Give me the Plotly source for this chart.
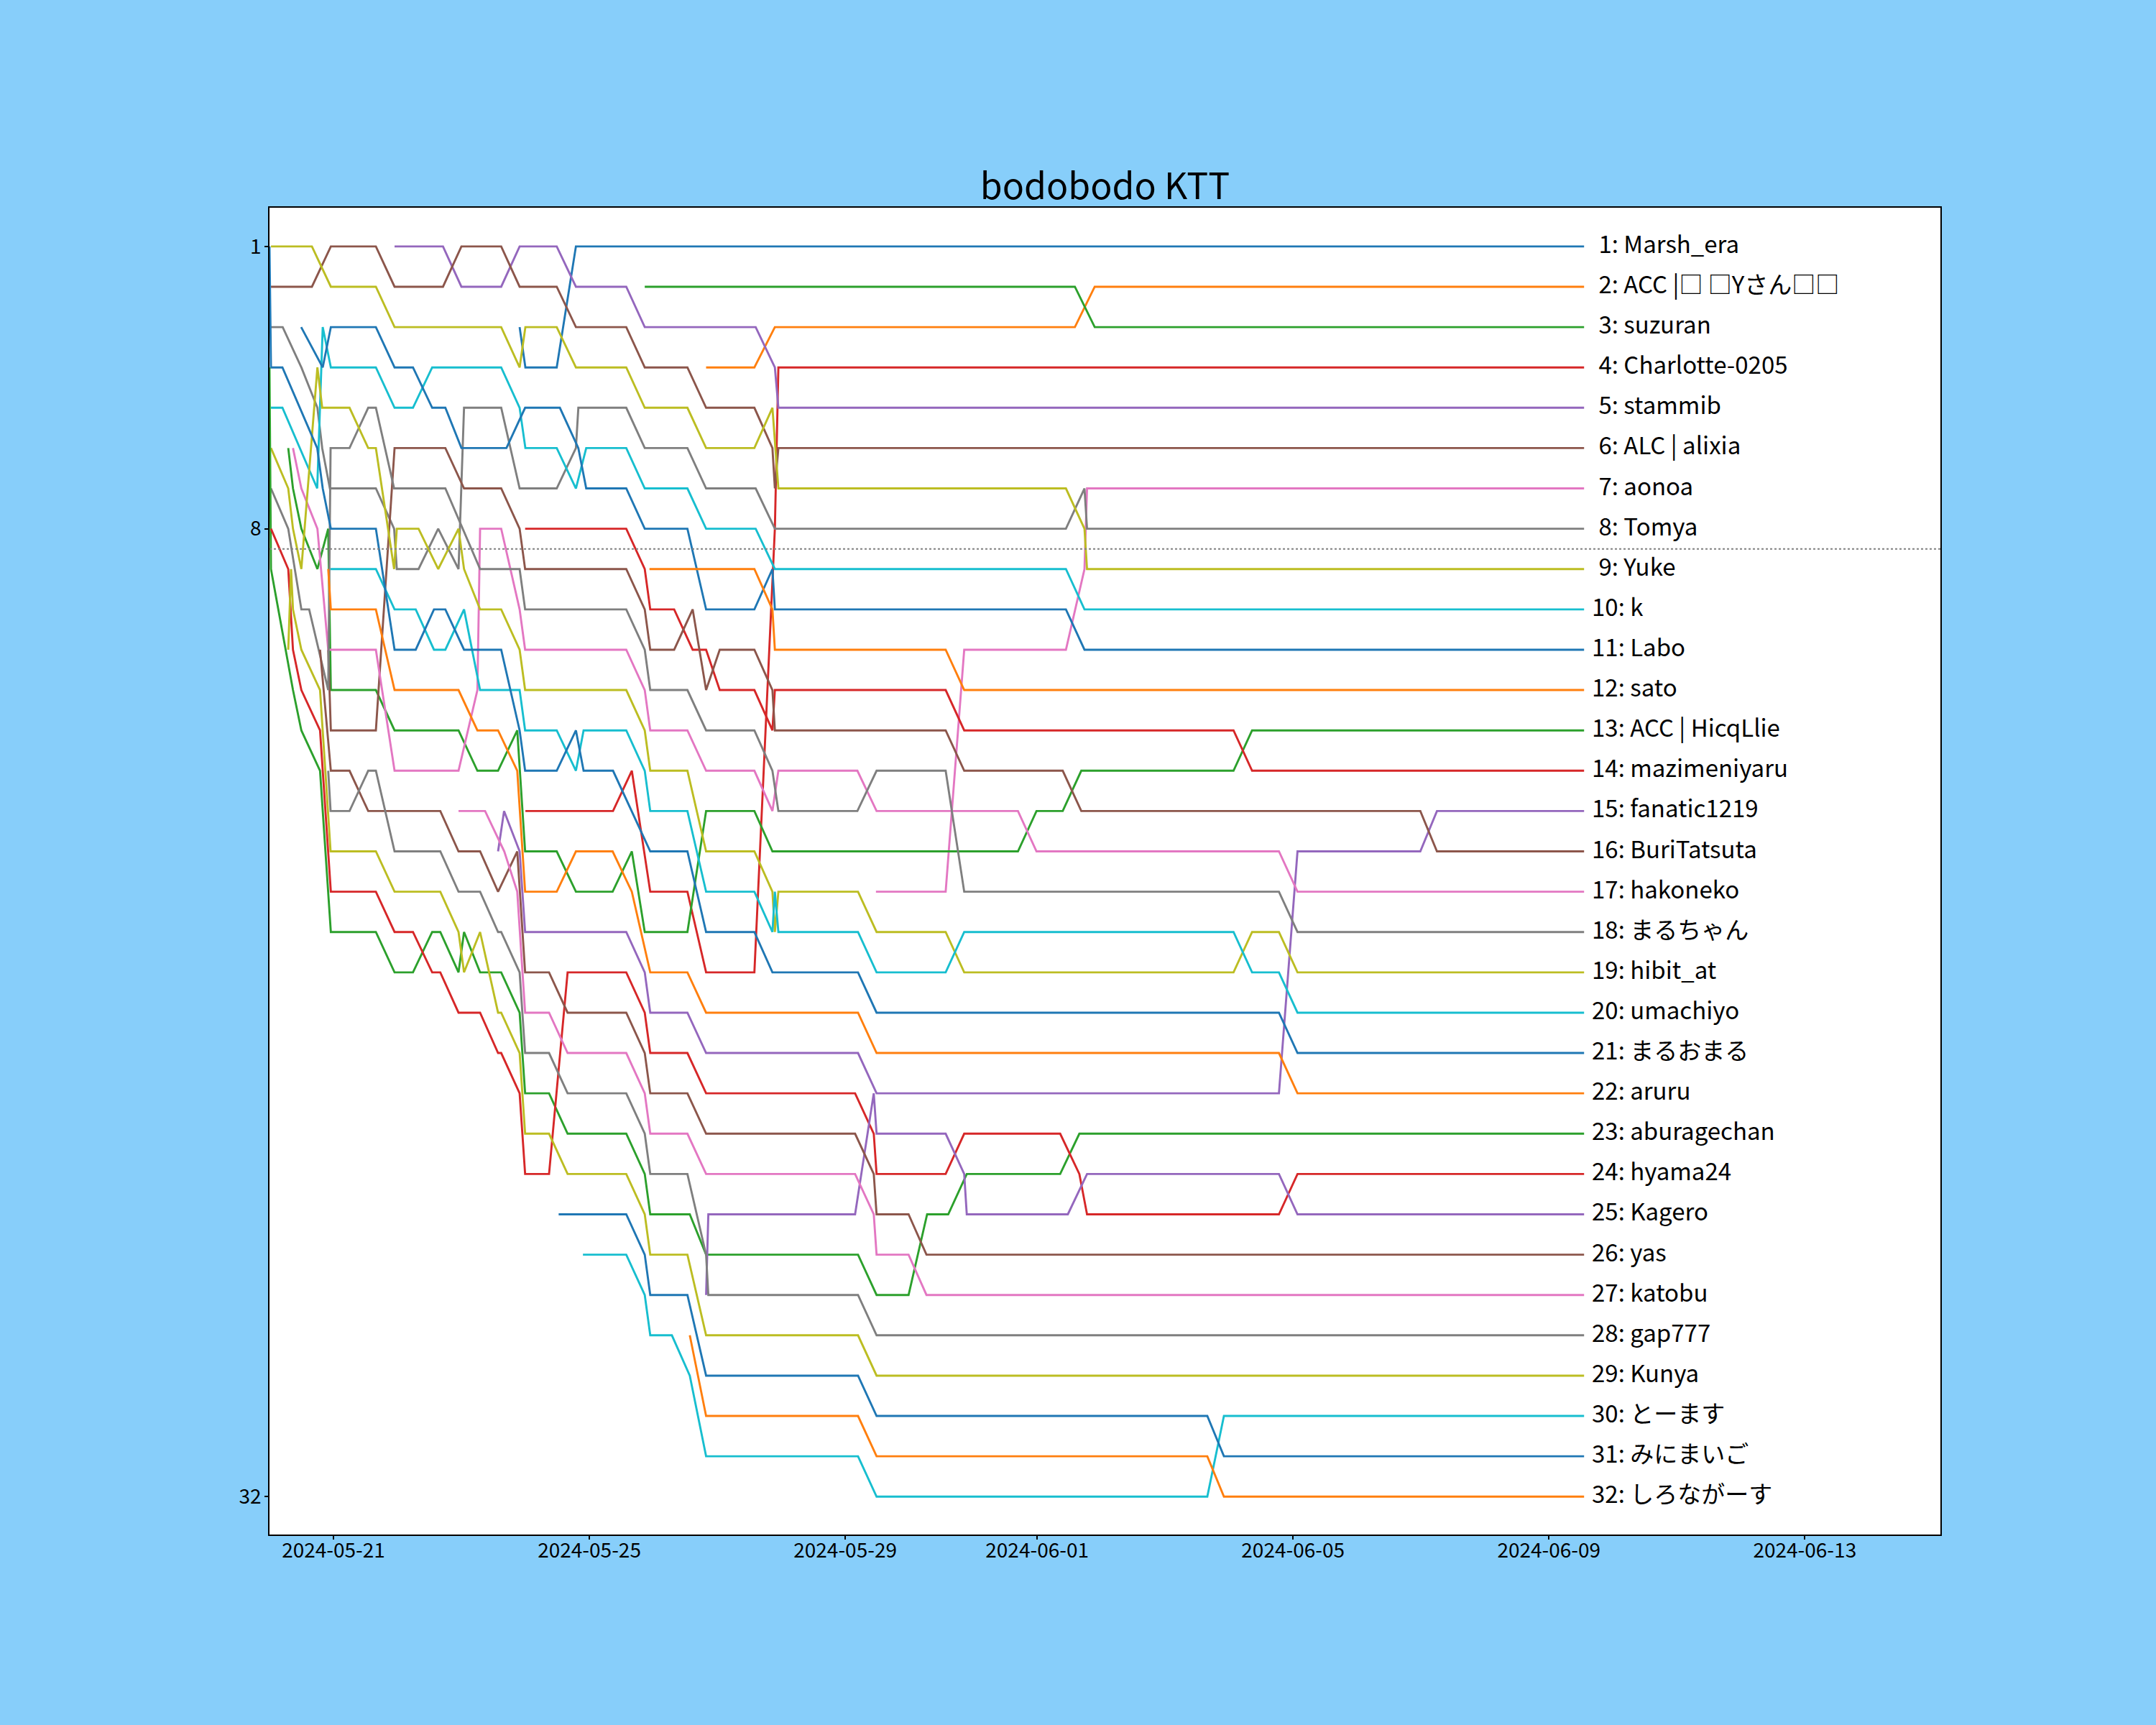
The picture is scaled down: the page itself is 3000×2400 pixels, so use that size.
import pandas as pd
import plotly.graph_objects as go

START = pd.Timestamp("2024-05-20 00:00")
END = 20.55  # days after START where every line stops

# final standings (rank order) and the tab10 colour each line gets
NAMES = [
    "Marsh_era", "ACC |□ □Yさん□□", "suzuran", "Charlotte-0205", "stammib",
    "ALC | alixia", "aonoa", "Tomya", "Yuke", "k",
    "Labo", "sato", "ACC | HicqLlie", "mazimeniyaru", "fanatic1219",
    "BuriTatsuta", "hakoneko", "まるちゃん", "hibit_at", "umachiyo",
    "まるおまる", "aruru", "aburagechan", "hyama24", "Kagero",
    "yas", "katobu", "gap777", "Kunya", "とーます",
    "みにまいご", "しろながーす",
]
TAB10 = ["#1f77b4", "#ff7f0e", "#2ca02c", "#d62728", "#9467bd",
         "#8c564b", "#e377c2", "#7f7f7f", "#bcbd22", "#17becf"]

# (days since START, rank) at each visible corner of a player's line
marsh_era = [(3.91, 3), (4.00, 4), (4.49, 4), (4.79, 1), (END, 1)]
acc_y = [(6.825, 4), (7.58, 4), (7.90, 3), (12.59, 3), (12.90, 2), (END, 2)]
suzuran = [(5.866, 2), (12.59, 2), (12.90, 3), (END, 3)]
charlotte = [(4.00, 15), (5.37, 15), (5.664, 14), (5.952, 17), (6.533, 17), (6.825, 19),
             (7.58, 19), (7.90, 8), (7.955, 4), (END, 4)]
stammib = [(1.955, 1), (2.712, 1), (3.00, 2), (3.622, 2), (3.91, 1), (4.49, 1), (4.79, 2),
           (5.577, 2), (5.866, 3), (7.60, 3), (7.90, 4), (7.955, 5), (END, 5)]
alixia = [(0.023, 2), (0.663, 2), (0.959, 1), (1.663, 1), (1.955, 2), (2.712, 2), (3.00, 1),
          (3.622, 1), (3.91, 2), (4.49, 2), (4.79, 3), (5.577, 3), (5.866, 4), (6.533, 4),
          (6.825, 5), (7.58, 5), (7.862, 6), (7.90, 7), (7.955, 6), (END, 6)]
aonoa = [(9.48, 17), (10.57, 17), (10.86, 11), (12.45, 11), (12.74, 9), (12.78, 7), (END, 7)]
tomya = [(0.023, 3), (0.206, 3), (0.498, 4), (0.749, 5), (0.824, 6), (0.944, 7), (1.663, 7),
         (1.948, 8), (1.99, 9), (2.33, 9), (2.637, 8), (2.955, 9), (3.041, 5), (3.622, 5),
         (3.91, 7), (4.49, 7), (4.79, 6), (4.828, 5), (5.577, 5), (5.866, 6), (6.533, 6),
         (6.825, 7), (7.60, 7), (7.90, 8), (12.45, 8), (12.74, 7), (12.78, 8), (END, 8)]
yuke = [(0.023, 1), (0.663, 1), (0.959, 2), (1.663, 2), (1.955, 3), (3.622, 3), (3.91, 4),
        (4.00, 3), (4.49, 3), (4.79, 4), (5.577, 4), (5.866, 5), (6.533, 5), (6.825, 6),
        (7.58, 6), (7.862, 5), (7.955, 7), (12.45, 7), (12.74, 8), (12.78, 9), (END, 9)]
k = [(0.023, 5), (0.202, 5), (0.746, 7), (0.832, 3), (0.959, 4), (1.663, 4), (1.955, 5),
     (2.243, 5), (2.543, 4), (3.622, 4), (3.91, 5), (4.00, 6), (4.49, 6), (4.79, 7),
     (4.951, 6), (5.577, 6), (5.866, 7), (6.533, 7), (6.825, 8), (7.60, 8), (7.90, 9),
     (12.45, 9), (12.74, 10), (END, 10)]
labo = [(0.495, 3), (0.832, 4), (0.959, 3), (1.663, 3), (1.955, 4), (2.243, 4), (2.543, 5),
        (2.749, 5), (3.00, 6), (3.704, 6), (3.996, 5), (4.539, 5), (4.828, 6), (4.951, 7),
        (5.577, 7), (5.866, 8), (6.533, 8), (6.825, 10), (7.58, 10), (7.862, 9), (7.90, 10),
        (12.45, 10), (12.74, 11), (END, 11)]
sato = [(5.94, 9), (7.58, 9), (7.862, 10), (7.90, 11), (10.57, 11), (10.86, 12), (END, 12)]
hicqllie = [(0.293, 6), (0.367, 7), (0.498, 8), (0.749, 9), (0.918, 8), (0.959, 12),
            (1.663, 12), (1.955, 13), (2.955, 13), (3.25, 14), (3.573, 14), (3.873, 13),
            (3.996, 16), (4.49, 16), (4.79, 17), (5.364, 17), (5.664, 16), (5.866, 18),
            (6.533, 18), (6.825, 15), (7.58, 15), (7.862, 16), (11.70, 16), (11.99, 15),
            (12.40, 15), (12.69, 14), (15.07, 14), (15.36, 13), (END, 13)]
mazimeniyaru = [(3.996, 8), (5.577, 8), (5.866, 9), (5.952, 10), (6.326, 10), (6.615, 11),
                (6.825, 11), (7.038, 12), (7.58, 12), (7.862, 13), (7.90, 12), (10.57, 12),
                (10.86, 13), (15.07, 13), (15.36, 14), (END, 14)]
fanatic = [(3.573, 16), (3.667, 15), (3.91, 16), (3.996, 18), (5.577, 18), (5.866, 19),
           (5.952, 20), (6.533, 20), (6.825, 21), (9.2, 21), (9.49, 22), (15.78, 22),
           (16.07, 16), (17.99, 16), (18.25, 15), (END, 15)]
buritatsuta = [(0.918, 11), (0.959, 13), (1.663, 13), (1.955, 6), (2.749, 6), (3.041, 7),
               (3.622, 7), (3.91, 8), (3.996, 9), (5.577, 9), (5.866, 10), (5.952, 11),
               (6.326, 11), (6.615, 10), (6.825, 12), (7.038, 11), (7.58, 11), (7.862, 12),
               (7.90, 13), (10.57, 13), (10.86, 14), (12.40, 14), (12.69, 15), (17.99, 15),
               (18.25, 16), (END, 16)]
hakoneko = [(0.367, 6), (0.498, 7), (0.749, 8), (0.918, 11), (1.663, 11), (1.955, 14),
            (2.955, 14), (3.25, 12), (3.292, 8), (3.622, 8), (3.91, 10), (3.996, 11),
            (5.577, 11), (5.866, 12), (5.952, 13), (6.533, 13), (6.825, 14), (7.58, 14),
            (7.862, 15), (7.955, 14), (9.19, 14), (9.49, 15), (11.70, 15), (11.99, 16),
            (15.78, 16), (16.07, 17), (END, 17)]
maruchan = [(0.023, 7), (0.293, 8), (0.498, 10), (0.62, 10), (0.918, 12), (0.955, 6),
            (1.251, 6), (1.543, 5), (1.663, 5), (1.948, 7), (2.749, 7), (3.292, 9), (3.91, 9),
            (3.996, 10), (5.577, 10), (5.866, 11), (5.952, 12), (6.533, 12), (6.825, 13),
            (7.58, 13), (7.862, 14), (7.955, 15), (9.19, 15), (9.49, 14), (10.57, 14),
            (10.86, 17), (15.78, 17), (16.07, 18), (END, 18)]
hibit_at = [(0.023, 6), (0.293, 7), (0.367, 8), (0.498, 9), (0.749, 4), (0.824, 5), (1.251, 5),
            (1.543, 6), (1.663, 6), (1.948, 9), (1.99, 8), (2.33, 8), (2.637, 9), (2.955, 8),
            (3.041, 9), (3.292, 10), (3.622, 10), (3.91, 11), (3.996, 12), (5.577, 12),
            (5.866, 13), (5.952, 14), (6.533, 14), (6.825, 16), (7.58, 16), (7.862, 17),
            (7.90, 18), (7.955, 17), (9.2, 17), (9.49, 18), (10.57, 18), (10.86, 19),
            (15.07, 19), (15.36, 18), (15.78, 18), (16.07, 19), (END, 19)]
umachiyo = [(0.955, 9), (1.663, 9), (1.955, 10), (2.286, 10), (2.571, 11), (2.749, 11),
            (3.041, 10), (3.292, 12), (3.91, 12), (3.996, 13), (4.49, 13), (4.79, 14),
            (4.91, 13), (5.577, 13), (5.866, 14), (5.952, 15), (6.533, 15), (6.825, 17),
            (7.58, 17), (7.862, 18), (7.90, 17), (7.955, 18), (9.2, 18), (9.49, 19),
            (10.57, 19), (10.86, 18), (15.07, 18), (15.36, 19), (15.78, 19), (16.07, 20),
            (END, 20)]
maruomaru = [(0.0, 1), (0.023, 4), (0.202, 4), (0.746, 6), (0.832, 7), (0.959, 8), (1.663, 8),
             (1.955, 11), (2.286, 11), (2.571, 10), (2.749, 10), (3.041, 11), (3.622, 11),
             (3.91, 13), (3.996, 14), (4.49, 14), (4.79, 13), (4.91, 14), (5.37, 14),
             (5.952, 16), (6.533, 16), (6.825, 18), (7.58, 18), (7.862, 19), (9.2, 19),
             (9.49, 20), (15.78, 20), (16.07, 21), (END, 21)]
aruru = [(0.918, 9), (0.959, 10), (1.663, 10), (1.955, 12), (2.955, 12), (3.25, 13),
         (3.573, 13), (3.873, 14), (3.996, 17), (4.49, 17), (4.79, 16), (5.364, 16),
         (5.664, 17), (5.952, 19), (6.533, 19), (6.825, 20), (9.2, 20), (9.49, 21),
         (15.78, 21), (16.07, 22), (END, 22)]
aburagechan = [(0.0, 4), (0.023, 9), (0.367, 12), (0.498, 13), (0.79, 14), (0.959, 18),
               (1.663, 18), (1.955, 19), (2.243, 19), (2.543, 18), (2.67, 18), (2.955, 19),
               (3.041, 18), (3.292, 19), (3.622, 19), (3.91, 20), (3.996, 22), (4.37, 22),
               (4.66, 23), (5.577, 23), (5.866, 24), (5.952, 25), (6.57, 25), (6.825, 26),
               (9.2, 26), (9.49, 27), (9.99, 27), (10.28, 25), (10.61, 25), (10.90, 24),
               (12.36, 24), (12.66, 23), (END, 23)]
hyama24 = [(0.023, 8), (0.293, 9), (0.367, 11), (0.498, 12), (0.79, 13), (0.959, 17),
           (1.663, 17), (1.955, 18), (2.243, 18), (2.543, 19), (2.67, 19), (2.955, 20),
           (3.292, 20), (3.573, 21), (3.622, 21), (3.91, 22), (3.996, 24), (4.37, 24),
           (4.66, 19), (5.577, 19), (5.866, 20), (5.952, 21), (6.533, 21), (6.825, 22),
           (9.154, 22), (9.446, 23), (9.49, 24), (10.57, 24), (10.86, 23), (12.36, 23),
           (12.66, 24), (12.78, 25), (15.78, 25), (16.07, 24), (END, 24)]
kagero = [(6.825, 27), (6.86, 25), (9.154, 25), (9.446, 22), (9.49, 23), (10.57, 23),
          (10.86, 24), (10.90, 25), (12.48, 25), (12.78, 24), (15.78, 24), (16.07, 25), (END, 25)]
yas = [(0.79, 11), (0.959, 14), (1.251, 14), (1.543, 15), (2.67, 15), (2.955, 16), (3.292, 16),
       (3.573, 17), (3.873, 16), (3.996, 19), (4.37, 19), (4.66, 20), (5.577, 20), (5.866, 21),
       (5.952, 22), (6.533, 22), (6.825, 23), (9.154, 23), (9.446, 24), (9.49, 25), (9.99, 25),
       (10.27, 26), (END, 26)]
katobu = [(2.955, 15), (3.37, 15), (3.67, 16), (3.873, 17), (3.996, 20), (4.37, 20), (4.66, 21),
          (5.577, 21), (5.866, 22), (5.952, 23), (6.533, 23), (6.825, 24), (9.154, 24),
          (9.446, 25), (9.49, 26), (9.99, 26), (10.27, 27), (END, 27)]
gap777 = [(0.918, 14), (0.955, 15), (1.251, 15), (1.543, 14), (1.663, 14), (1.955, 16),
          (2.67, 16), (2.955, 17), (3.292, 17), (3.573, 18), (3.622, 18), (3.91, 19),
          (3.996, 21), (4.37, 21), (4.66, 22), (5.577, 22), (5.866, 23), (5.952, 24),
          (6.533, 24), (6.825, 26), (6.86, 27), (9.2, 27), (9.49, 28), (END, 28)]
kunya = [(0.293, 11), (0.337, 9), (0.367, 10), (0.498, 11), (0.79, 12), (0.955, 16),
         (1.663, 16), (1.955, 17), (2.67, 17), (2.955, 18), (3.041, 19), (3.292, 18),
         (3.573, 20), (3.622, 20), (3.91, 21), (3.996, 23), (4.37, 23), (4.66, 24),
         (5.577, 24), (5.866, 25), (5.952, 26), (6.533, 26), (6.825, 28), (9.2, 28),
         (9.49, 29), (END, 29)]
tomasu = [(4.90, 26), (5.577, 26), (5.866, 27), (5.952, 28), (6.29, 28), (6.57, 29),
          (6.825, 31), (9.2, 31), (9.49, 32), (14.66, 32), (14.92, 30), (END, 30)]
minimaigo = [(4.52, 25), (5.577, 25), (5.866, 26), (5.952, 27), (6.533, 27), (6.825, 29),
             (9.2, 29), (9.49, 30), (14.66, 30), (14.92, 31), (END, 31)]
shironagasu = [(6.57, 28), (6.825, 30), (9.2, 30), (9.49, 31), (14.66, 31), (14.92, 32), (END, 32)]

PATHS = [marsh_era, acc_y, suzuran, charlotte, stammib, alixia, aonoa, tomya, yuke, k,
         labo, sato, hicqllie, mazimeniyaru, fanatic, buritatsuta, hakoneko, maruchan,
         hibit_at, umachiyo, maruomaru, aruru, aburagechan, hyama24, kagero, yas, katobu,
         gap777, kunya, tomasu, minimaigo, shironagasu]

X_TICKS = ["2024-05-21", "2024-05-25", "2024-05-29", "2024-06-01",
           "2024-06-05", "2024-06-09", "2024-06-13"]
Y_TICKS = [1, 8, 32]

FONT = "Noto Sans CJK JP, DejaVu Sans, sans-serif"


def to_time(days):
    return START + pd.to_timedelta(days, unit="D")


fig = go.Figure()

for i, (name, path) in enumerate(zip(NAMES, PATHS)):
    days = [p[0] for p in path]
    ranks = [p[1] for p in path]
    fig.add_trace(go.Scatter(
        x=[to_time(d) for d in days], y=ranks, mode="lines", name=name,
        line=dict(color=TAB10[i % 10], width=2.9), showlegend=False,
    ))
    rank = i + 1
    # pad single digits so the colons line up like "%2d"
    label = f"{rank}: {name}" if rank >= 10 else "\u00a0\u200a" + f"{rank}: {name}"
    fig.add_annotation(
        x=to_time(END), y=rank, text=label, showarrow=False,
        xanchor="left", yanchor="middle", xshift=9, yshift=5,
        font=dict(family=FONT, size=33, color="black"),
    )

# dotted divider between the top 8 and the rest
fig.add_shape(type="line", xref="paper", x0=0, x1=1, y0=8.5, y1=8.5,
              line=dict(color="#808080", width=2, dash="dot"))

fig.update_layout(
    width=3000, height=2400,
    paper_bgcolor="#87cefa", plot_bgcolor="white",
    margin=dict(l=375, r=300, t=289, b=265, autoexpand=False),
    title=dict(text="bodobodo KTT", x=0.5125, xanchor="center", y=0.892, yanchor="middle",
               yref="container", font=dict(family=FONT, size=50, color="black")),
    font=dict(family=FONT, size=28, color="black"),
)
fig.update_xaxes(
    range=[to_time(0.0), to_time(26.12)],
    tickvals=[pd.Timestamp(t) for t in X_TICKS], ticktext=X_TICKS,
    ticks="outside", ticklen=5, tickwidth=1.5, tickcolor="black",
    ticklabelstandoff=-8,
    showgrid=False, zeroline=False,
    showline=True, linecolor="black", linewidth=1.6, mirror=True,
    tickfont=dict(family=FONT, size=28),
)
fig.update_yaxes(
    range=[32.94, 0.04],
    tickvals=Y_TICKS, ticktext=[str(t) for t in Y_TICKS],
    ticks="outside", ticklen=5, tickwidth=1.5, tickcolor="black",
    ticklabelstandoff=-1,
    showgrid=False, zeroline=False,
    showline=True, linecolor="black", linewidth=1.6, mirror=True,
    tickfont=dict(family=FONT, size=28),
)

fig.write_html("out.html", config={"displayModeBar": False},
               post_script="document.body.style.margin='0';")
